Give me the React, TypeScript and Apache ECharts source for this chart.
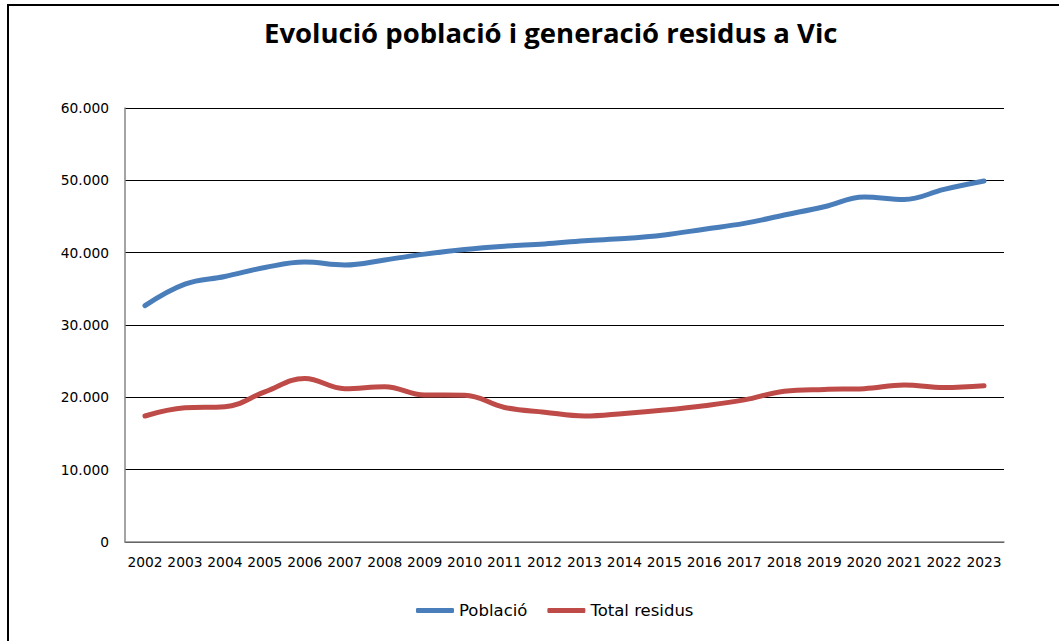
import React, { useEffect, useRef } from "react";
import * as echarts from "echarts";

const years = ["2002","2003","2004","2005","2006","2007","2008","2009","2010","2011","2012","2013","2014","2015","2016","2017","2018","2019","2020","2021","2022","2023"];
const poblacio = [32670,35650,36700,37950,38700,38300,38990,39800,40450,40900,41200,41650,41950,42450,43250,44050,45200,46350,47700,47350,48750,49900];
const residus = [17420,18550,18700,20750,22600,21200,21480,20320,20300,18600,17950,17420,17780,18250,18850,19650,20850,21100,21200,21700,21350,21600];
const yTicks = [0, 10000, 20000, 30000, 40000, 50000, 60000];

const fmt = (v: number) => (v === 0 ? "0" : String(v).replace(/\B(?=(\d{3})+(?!\d))/g, "."));

export default function App() {
  const ref = useRef<HTMLDivElement>(null);
  useEffect(() => {
    document.body.style.margin = "0";
    const chart = echarts.init(ref.current!, null, { renderer: "svg" });
    const font = "DejaVu Sans";
    chart.setOption({
      animation: false,
      backgroundColor: "#ffffff",
      title: {
        text: "Evolució població i generació residus a Vic",
        left: 259,
        top: 13,
        textStyle: { fontFamily: "Open Sans", fontWeight: "bold", fontSize: 27.5, color: "#000" },
      },
      graphic: [
        {
          type: "rect",
          shape: { x: 8, y: 5, width: 1070, height: 660 },
          style: { fill: "none", stroke: "#000", lineWidth: 2 },
          silent: true,
        },
      ],
      legend: {
        left: 411,
        top: 597,
        itemWidth: 38,
        itemHeight: 5,
        itemGap: 20,
        icon: "roundRect",
        textStyle: { fontFamily: font, fontSize: 16.5, color: "#000" },
        data: ["Població", "Total residus"],
      },
      grid: { left: 125, right: 55, top: 108, bottom: 99 },
      xAxis: {
        type: "category",
        data: years,
        boundaryGap: true,
        axisLine: { lineStyle: { color: "#868686", width: 1.5 } },
        axisTick: { show: false },
        axisLabel: { interval: 0, margin: 13, fontFamily: font, fontSize: 13.8, color: "#000" },
      },
      yAxis: {
        type: "value",
        min: yTicks[0],
        max: yTicks[yTicks.length - 1],
        interval: yTicks[1] - yTicks[0],
        axisLine: { show: true, lineStyle: { color: "#868686", width: 1.5 } },
        axisTick: { show: false },
        splitLine: { lineStyle: { color: "#000", width: 1.2 } },
        axisLabel: { margin: 16, fontFamily: font, fontSize: 13.8, color: "#000", formatter: fmt },
      },
      series: [
        {
          name: "Població",
          type: "line",
          data: poblacio,
          smooth: 0.4,
          showSymbol: false,
          symbol: "none",
          lineStyle: { color: "#4a7ebb", width: 5, cap: "round" },
          itemStyle: { color: "#4a7ebb" },
        },
        {
          name: "Total residus",
          type: "line",
          data: residus,
          smooth: 0.4,
          showSymbol: false,
          symbol: "none",
          lineStyle: { color: "#be4b48", width: 5, cap: "round" },
          itemStyle: { color: "#be4b48" },
        },
      ],
    });
    return () => chart.dispose();
  }, []);
  return <div ref={ref} style={{ width: 1059, height: 641 }} />;
}
